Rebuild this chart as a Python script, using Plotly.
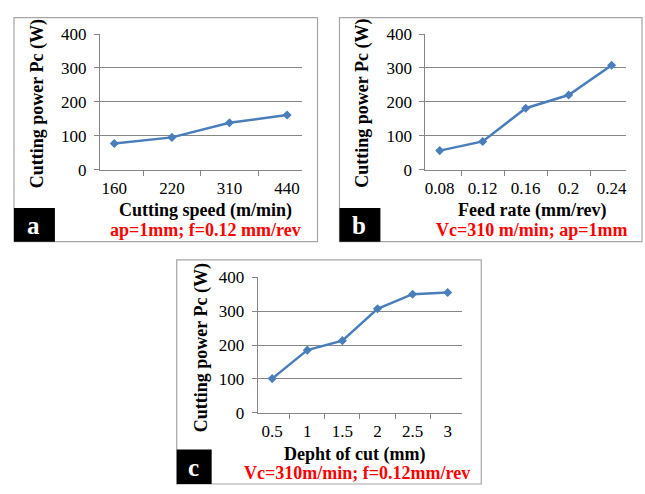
import plotly.graph_objects as go

W, H = 645, 494

# ---- data ----
speed_labels = ["160", "220", "310", "440"]
power_a = [77, 95, 138, 161]

feed_labels = ["0.08", "0.12", "0.16", "0.2", "0.24"]
power_b = [56, 83, 181, 220, 308]

depth_labels = ["0.5", "1", "1.5", "2", "2.5", "3"]
power_c = [101, 185, 213, 307, 350, 355]

y_title = "Cutting power Pc (W)"
x_titles = ["Cutting speed (m/min)", "Feed rate (mm/rev)", "Depht of cut (mm)"]
conditions = ["ap=1mm; f=0.12 mm/rev", "Vc=310 m/min; ap=1mm", "Vc=310m/min; f=0.12mm/rev"]
panel_letters = ["a", "b", "c"]

FONT = "Liberation Serif, Times New Roman, Times, serif"
LINE = "#4a7ebb"
GRID = "#868686"
FRAME = "#a6a6a6"


def px(x):
    return x / W


def py(y):
    return 1 - y / H


fig = go.Figure()

panels = [
    dict(x=speed_labels, y=power_a, xd=(100, 302), yd=(26, 167)),
    dict(x=feed_labels, y=power_b, xd=(426, 627), yd=(26, 167)),
    dict(x=depth_labels, y=power_c, xd=(258, 463), yd=(279, 420)),
]

for i, p in enumerate(panels):
    n = "" if i == 0 else str(i + 1)
    fig.add_trace(go.Scatter(
        x=p["x"], y=p["y"], mode="lines+markers",
        line=dict(color=LINE, width=2.5),
        marker=dict(symbol="diamond", size=7, color=LINE),
        xaxis="x" + n, yaxis="y" + n, showlegend=False,
    ))
    fig.update_layout(**{
        "xaxis" + n: dict(
            domain=[px(p["xd"][0]), px(p["xd"][1])],
            anchor="y" + n, type="category",
            tickson="boundaries", ticks="outside", ticklen=5,
            tickcolor=GRID, showline=True, linecolor=GRID, linewidth=1,
            showgrid=False, tickfont=dict(family=FONT, size=17, color="black"),
            ticklabelstandoff=3,
            fixedrange=True,
        ),
        "yaxis" + n: dict(
            domain=[py(p["yd"][1]), py(p["yd"][0])],
            anchor="x" + n, range=[0, 400], dtick=100,
            ticks="outside", ticklen=5, tickcolor=GRID,
            showline=True, linecolor=GRID, linewidth=1,
            showgrid=True, gridcolor=GRID, gridwidth=1, zeroline=False,
            tickfont=dict(family=FONT, size=17, color="black"),
            ticklabelstandoff=4,
            fixedrange=True,
        ),
    })

# panel frames
frames = [(14, 9, 318, 242), (340, 9, 643, 242), (177, 261, 482, 494)]
for (x0, y0, x1, y1) in frames:
    fig.add_shape(type="rect", xref="paper", yref="paper",
                  x0=px(x0), x1=px(x1), y0=py(y1), y1=py(y0),
                  line=dict(color=FRAME, width=1.2), fillcolor="rgba(0,0,0,0)", layer="below")

# black letter boxes
boxes = [(14, 207, 55, 242), (340, 207, 381, 242), (177, 458, 212, 494)]
for (x0, y0, x1, y1), letter in zip(boxes, panel_letters):
    fig.add_shape(type="rect", xref="paper", yref="paper",
                  x0=px(x0), x1=px(x1), y0=py(y1), y1=py(y0),
                  line=dict(color="black", width=0), fillcolor="black")
    fig.add_annotation(x=px((x0 + x1) / 2 - 1), y=py((y0 + y1) / 2 + 1), xref="paper", yref="paper",
                       text="<b>%s</b>" % letter, showarrow=False,
                       font=dict(family=FONT, size=25, color="white"),
                       xanchor="center", yanchor="middle")

# axis titles
x_title_pos = [(206, 210), (533, 210), (355, 463)]
for t, (x, y) in zip(x_titles, x_title_pos):
    fig.add_annotation(x=px(x), y=py(y), xref="paper", yref="paper",
                       text="<b>%s</b>" % t, showarrow=False,
                       font=dict(family=FONT, size=18, color="black"),
                       xanchor="center", yanchor="middle")

y_title_pos = [(37, 98), (363, 98), (202, 352)]
for (x, y) in y_title_pos:
    fig.add_annotation(x=px(x), y=py(y), xref="paper", yref="paper",
                       text="<b>%s</b>" % y_title, showarrow=False, textangle=-90,
                       font=dict(family=FONT, size=18, color="black"),
                       xanchor="center", yanchor="middle")

cond_pos = [(206, 230), (533, 230), (358, 483)]
for t, (x, y) in zip(conditions, cond_pos):
    fig.add_annotation(x=px(x), y=py(y), xref="paper", yref="paper",
                       text="<b>%s</b>" % t, showarrow=False,
                       font=dict(family=FONT, size=18, color="#ff0000"),
                       xanchor="center", yanchor="middle")

fig.update_layout(
    width=W, height=H, autosize=False,
    margin=dict(l=0, r=0, t=0, b=0),
    paper_bgcolor="white", plot_bgcolor="white",
    showlegend=False,
    font=dict(family=FONT),
)

fig.write_html("out.html", config={"displayModeBar": False},
               post_script="document.body.style.margin='0';document.body.style.overflow='hidden';")
